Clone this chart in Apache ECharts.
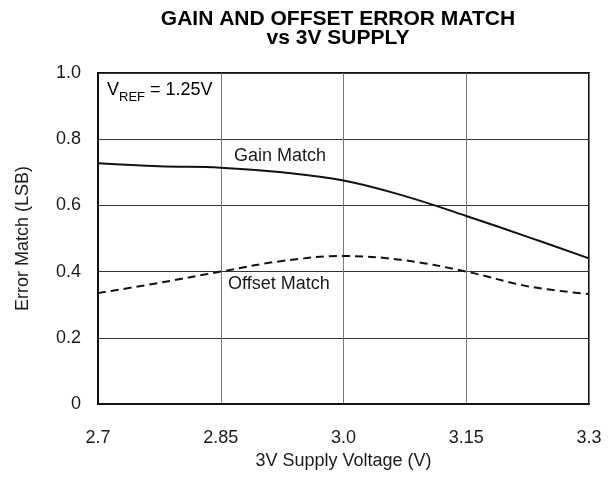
<!DOCTYPE html>
<html><head><meta charset="utf-8">
<script src="https://cdn.jsdelivr.net/npm/echarts@6/dist/echarts.min.js"></script>
<style>html,body{margin:0;padding:0;background:#fff}#c{width:612px;height:485px}</style>
</head><body><div id="c"></div>
<script>
var voltages = [2.7, 2.775, 2.85, 2.925, 3.0, 3.075, 3.15, 3.225, 3.3];
var gainMatch = [0.727, 0.718, 0.714, 0.700, 0.675, 0.628, 0.568, 0.505, 0.440];
var offsetMatch = [0.335, 0.366, 0.400, 0.432, 0.447, 0.434, 0.400, 0.356, 0.332];
var xTickLabels = ['2.7', '2.85', '3.0', '3.15', '3.3'];
var yTickLabels = ['0', '0.2', '0.4', '0.6', '0.8', '1.0'];

var F = 'Liberation Sans, Arial, sans-serif';
var TC = '#1a1a1a';
var chart = echarts.init(document.getElementById('c'), null, {renderer: 'canvas'});
function pairs(ys){ return voltages.map(function(v,i){ return [v, ys[i]]; }); }
chart.setOption({
  animation: false,
  backgroundColor: '#fff',
  title: {
    text: 'GAIN AND OFFSET ERROR MATCH\nvs 3V SUPPLY',
    left: 333, top: 5, textAlign: 'center',
    textStyle: {fontFamily: F, fontSize: 21, fontWeight: 'bold', color: '#000', lineHeight: 19}
  },
  grid: {left: 98, right: 23, top: 73, bottom: 81, show: true, borderColor: '#111', borderWidth: 2, backgroundColor: 'transparent'},
  xAxis: {
    type: 'value', min: 2.7, max: 3.3, interval: 0.15,
    name: '3V Supply Voltage (V)', nameLocation: 'middle', nameGap: 48,
    nameTextStyle: {fontFamily: F, fontSize: 18, color: TC},
    axisLine: {show: true, lineStyle: {color: '#111', width: 2}},
    axisTick: {show: false},
    axisLabel: {fontFamily: F, fontSize: 18, color: TC, margin: 25,
      formatter: function(v){ return xTickLabels[Math.round((v - 2.7) / 0.15)]; }},
    splitLine: {show: true, lineStyle: {color: '#777', width: 1}}
  },
  yAxis: {
    type: 'value', min: 0, max: 1, interval: 0.2,
    name: 'Error Match (LSB)', nameLocation: 'middle', nameGap: 66,
    nameTextStyle: {fontFamily: F, fontSize: 18, color: TC},
    axisLine: {show: true, lineStyle: {color: '#111', width: 2}},
    axisTick: {show: false},
    axisLabel: {fontFamily: F, fontSize: 18, color: TC, margin: 17,
      formatter: function(v){ return yTickLabels[Math.round(v / 0.2)]; }},
    splitLine: {show: true, lineStyle: {color: '#333', width: 1}}
  },
  series: [
    {type: 'line', name: 'Gain Match', data: pairs(gainMatch), smooth: 0.4, symbol: 'none',
     lineStyle: {color: '#111', width: 2}},
    {type: 'line', name: 'Offset Match', data: pairs(offsetMatch), smooth: 0.4, symbol: 'none',
     lineStyle: {color: '#111', width: 2, type: [8, 5]}}
  ],
  graphic: [
    {type: 'text', left: 107, top: 81, style: {
      text: '{n|V}{s|REF}{n| = 1.25V}', fontFamily: F,
      rich: {n: {fontFamily: F, fontSize: 18, color: TC, verticalAlign: 'bottom', lineHeight: 20},
             s: {fontFamily: F, fontSize: 13, color: TC, padding: [0, 0, -5, 0], verticalAlign: 'bottom', lineHeight: 20}}
    }},
    {type: 'text', left: 234, top: 147, style: {text: 'Gain Match', fontFamily: F, fontSize: 18, fill: TC}},
    {type: 'text', left: 228, top: 275, style: {text: 'Offset Match', fontFamily: F, fontSize: 18, fill: TC}}
  ]
});
</script></body></html>
